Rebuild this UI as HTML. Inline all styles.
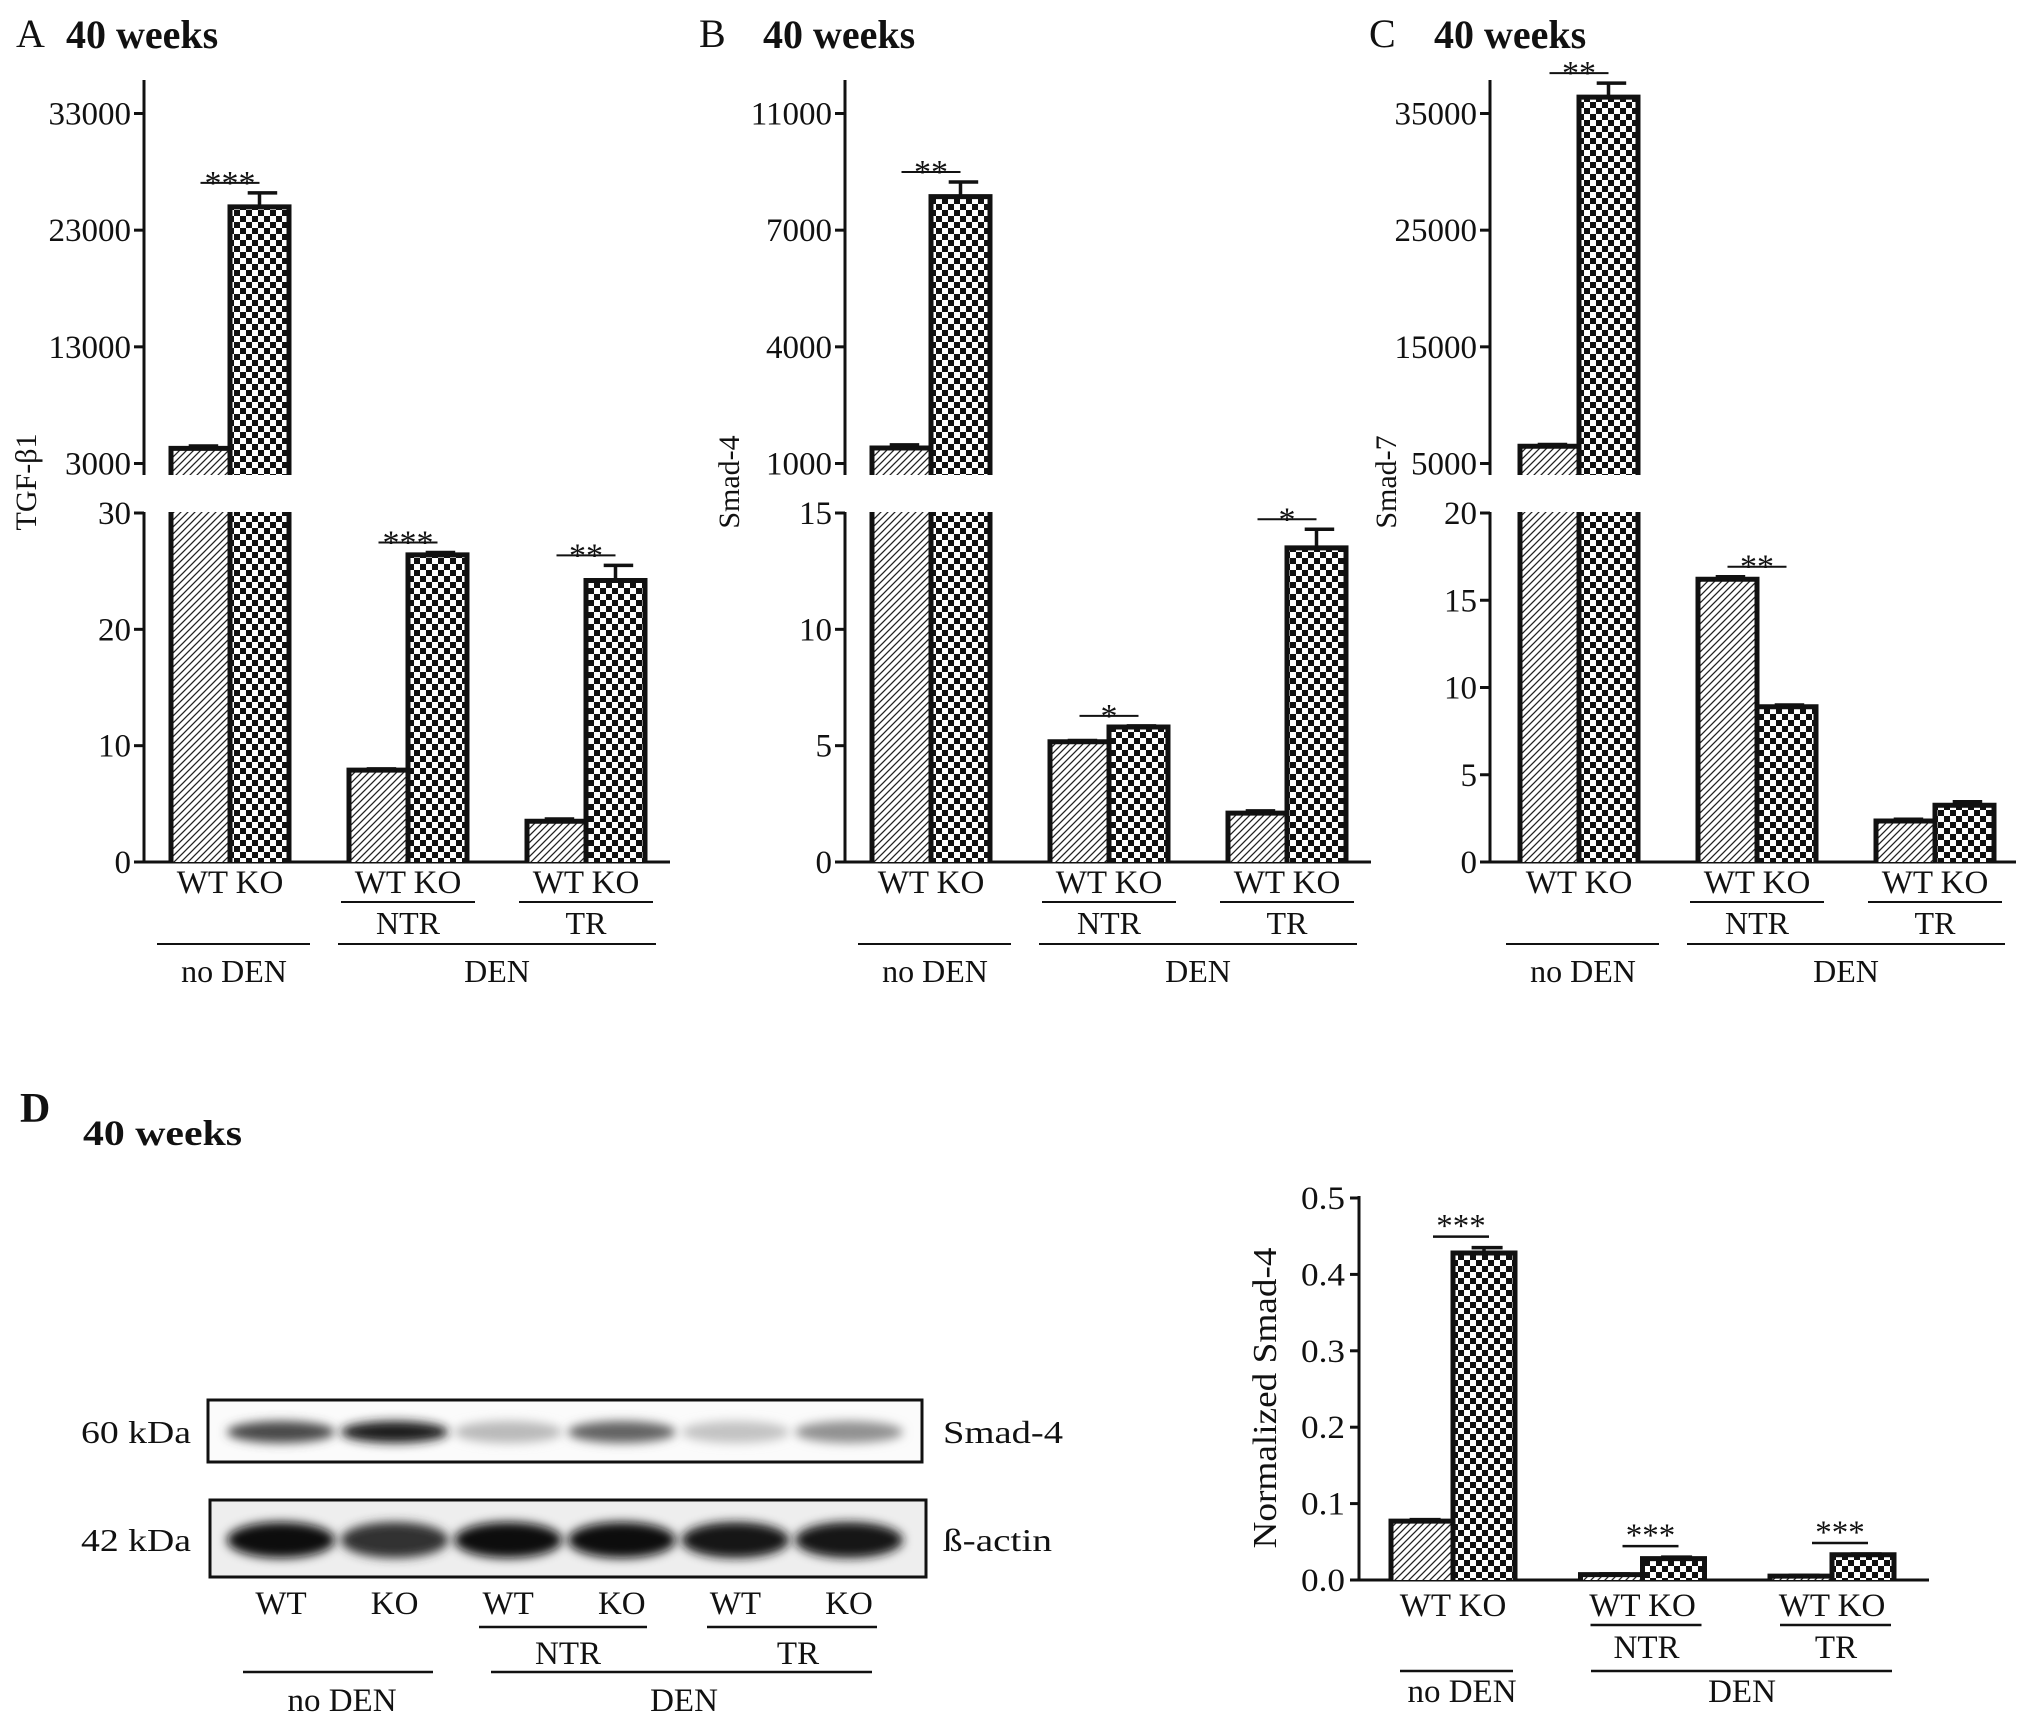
<!DOCTYPE html>
<html><head><meta charset="utf-8">
<style>
html,body{margin:0;padding:0;background:#fff;}
svg{display:block;}
text{font-family:"Liberation Serif",serif;fill:#111;}
</style></head>
<body>
<svg id="fig" width="2031" height="1721" viewBox="0 0 2031 1721" xmlns="http://www.w3.org/2000/svg">
<defs>
<pattern id="hatch" patternUnits="userSpaceOnUse" width="7" height="7">
<rect width="7" height="7" fill="#fff"/>
<path d="M-1,1 l2,-2 M0,7 l7,-7 M6,8 l2,-2" stroke="#222" stroke-width="1.3"/>
</pattern>
<pattern id="checker" patternUnits="userSpaceOnUse" width="12" height="12">
<rect width="12" height="12" fill="#fff"/>
<rect width="6" height="6" fill="#111"/>
<rect x="6" y="6" width="6" height="6" fill="#111"/>
</pattern>
<filter id="blur" x="-30%" y="-80%" width="160%" height="260%"><feGaussianBlur stdDeviation="5"/></filter>
</defs>
<g id="root"></g>
</svg>
<script>
// ---------- Panel A (TGF-β1) ----------
const groups = ["noDEN", "NTR", "TR"];
const aUpperTicks = [3000, 13000, 23000, 33000];
const aLowerTicks = [0, 10, 20, 30];
const aWT = [4300, 7.9, 3.5];
const aKO = [25000, 26.4, 24.2];
const aWTErr = [200, 0.1, 0.2];
const aKOErr = [1200, 0.2, 1.3];
const aStars = ["***", "***", "**"];
// ---------- Panel B (Smad-4) ----------
const bUpperTicks = [1000, 4000, 7000, 11000];
const bLowerTicks = [0, 5, 10, 15];
const bWT = [1400, 5.17, 2.1];
const bKO = [8150, 5.8, 13.5];
const bWTErr = [80, 0.05, 0.1];
const bKOErr = [500, 0.05, 0.8];
const bStars = ["**", "*", "*"];
// ---------- Panel C (Smad-7) ----------
const cUpperTicks = [5000, 15000, 25000, 35000];
const cLowerTicks = [0, 5, 10, 15, 20];
const cWT = [6480, 16.2, 2.35];
const cKO = [36400, 8.9, 3.25];
const cWTErr = [150, 0.15, 0.1];
const cKOErr = [1200, 0.1, 0.2];
const cStars = ["**", "**", ""];
// ---------- Panel D (Normalized Smad-4) ----------
const dTicks = [0.0, 0.1, 0.2, 0.3, 0.4, 0.5];
const dTickLabels = ["0.0", "0.1", "0.2", "0.3", "0.4", "0.5"];
const dWT = [0.077, 0.007, 0.005];
const dKO = [0.428, 0.028, 0.033];
const dWTErr = [0.002, 0.001, 0.001];
const dKOErr = [0.007, 0.002, 0.001];
const dStars = ["***", "***", "***"];
// ---------- Western blot ----------
const lanes = ["WT", "KO", "WT", "KO", "WT", "KO"];
const smadBand = [0.72, 0.92, 0.22, 0.6, 0.18, 0.4];
const actinBand = [0.97, 0.82, 1.0, 1.0, 0.95, 0.95];

const NS = "http://www.w3.org/2000/svg";
const root = document.getElementById("root");
function mk(tag, attrs, parent, txt) {
  const e = document.createElementNS(NS, tag);
  for (const k in attrs) e.setAttribute(k, attrs[k]);
  if (txt !== undefined) e.textContent = txt;
  (parent || root).appendChild(e);
  return e;
}
function tickScale(ticks, yFirst, yLast) {
  const n = ticks.length, step = (yLast - yFirst) / (n - 1);
  return function (v) {
    let i = 0;
    while (i < n - 2 && v > ticks[i + 1]) i++;
    return yFirst + (i + (v - ticks[i]) / (ticks[i + 1] - ticks[i])) * step;
  };
}
function fmt(v) { return String(v); }

function breakChart(p) {
  const g = mk("g", {});
  
  
  const ax = p.axisX;
  const upTop = 113.5, upBot = 463.5, brk = 475, loTop = 513, loBot = 862;
  const uy = tickScale(p.upperTicks, upBot, upTop);
  const ly = tickScale(p.lowerTicks, loBot, loTop);
  const lowerMax = p.lowerTicks[p.lowerTicks.length - 1];
  const lt = mk("text", { x: p.letterX, y: 47, "font-size": 40 }, g, p.letter);
  
  
  const wt = mk("text", { x: p.titleX, y: 48, "font-size": 40, "font-weight": "bold" }, g, "40 weeks");
  
  
  const yt = mk("text", { x: 0, y: 0, "font-size": 30, "text-anchor": "middle", transform: `translate(${p.yTitleX},482) rotate(-90)` }, g, p.yTitle);
  
  
  const au = mk("line", { x1: ax, y1: 80, x2: ax, y2: brk, stroke: "#111", "stroke-width": 3 }, g);
  
  
  const al = mk("line", { x1: ax, y1: 512, x2: ax, y2: loBot + 1.5, stroke: "#111", "stroke-width": 3 }, g);
  
  
  const xa = mk("line", { x1: ax, y1: loBot, x2: ax + 526, y2: loBot, stroke: "#111", "stroke-width": 3 }, g);
  
  
  p.upperTicks.forEach(t => {
    const y = uy(t);
    mk("line", { x1: ax - 10, y1: y, x2: ax, y2: y, stroke: "#111", "stroke-width": 3 }, g);
    const tl = mk("text", { x: ax - 13, y: y + 11, "font-size": 33, "text-anchor": "end" }, g, fmt(t));
    
    
  });
  p.lowerTicks.forEach(t => {
    const y = ly(t);
    mk("line", { x1: ax - 10, y1: y, x2: ax, y2: y, stroke: "#111", "stroke-width": 3 }, g);
    const tl = mk("text", { x: ax - 13, y: y + 11, "font-size": 33, "text-anchor": "end" }, g, fmt(t));
    
    
  });
  const bw = 59;
  const yOf = v => v > lowerMax ? uy(v) : ly(v);
  groups.forEach((grp, i) => {
    const cx = ax + p.off + i * 178;
    const series = [[p.wt[i], p.wtErr[i], "url(#hatch)", cx - bw, "wt"], [p.ko[i], p.koErr[i], "url(#checker)", cx, "ko"]];
    series.forEach(([v, e, fill, x, s]) => {
      if (v > lowerMax) {
        const r1 = mk("rect", { x: x, y: loTop - 1, width: bw, height: loBot - loTop + 1, fill: fill }, g);
        
        
        mk("path", { d: `M${x},${loTop - 1} V${loBot} M${x + bw},${loTop - 1} V${loBot}`, stroke: "#111", "stroke-width": 5, fill: "none" }, g);
        const y = uy(v);
        const r2 = mk("rect", { x: x, y: y, width: bw, height: brk - y, fill: fill }, g);
        
        
        mk("path", { d: `M${x},${brk} V${y} H${x + bw} V${brk}`, stroke: "#111", "stroke-width": 5, fill: "none" }, g);
        const ye = uy(v + e);
        mk("path", { d: `M${x + bw / 2},${y} V${ye} M${x + bw * 0.3},${ye} H${x + bw * 0.8}`, stroke: "#111", "stroke-width": 3.5, fill: "none" }, g);
      } else {
        const y = ly(v);
        const r = mk("rect", { x: x, y: y, width: bw, height: loBot - y, fill: fill }, g);
        
        
        mk("path", { d: `M${x},${loBot} V${y} H${x + bw} V${loBot}`, stroke: "#111", "stroke-width": 5, fill: "none" }, g);
        const ye = ly(v + e);
        mk("path", { d: `M${x + bw / 2},${y} V${ye} M${x + bw * 0.3},${ye} H${x + bw * 0.8}`, stroke: "#111", "stroke-width": 3.5, fill: "none" }, g);
      }
    });
    if (p.stars[i]) {
      const top = Math.min(yOf(p.wt[i] + p.wtErr[i]), yOf(p.ko[i] + p.koErr[i]));
      const ly2 = top - 10;
      mk("line", { x1: cx - bw / 2, y1: ly2, x2: cx + bw / 2, y2: ly2, stroke: "#111", "stroke-width": 2 }, g);
      const st = mk("text", { x: cx, y: ly2 + 11, "font-size": 34, "text-anchor": "middle" }, g, p.stars[i]);
      
      
    }
    const xl = mk("text", { x: cx, y: 893, "font-size": 33, "text-anchor": "middle" }, g, "WT KO");
    
    
    if (i > 0) {
      mk("line", { x1: cx - 67, y1: 902, x2: cx + 67, y2: 902, stroke: "#111", "stroke-width": 2 }, g);
      const tr = mk("text", { x: cx, y: 934, "font-size": 32, "text-anchor": "middle" }, g, grp);
      
      
    }
  });
  const c0 = ax + p.off, c1 = ax + p.off + 178, c2 = ax + p.off + 356;
  mk("line", { x1: c0 - 73, y1: 944, x2: c0 + 80, y2: 944, stroke: "#111", "stroke-width": 2 }, g);
  mk("line", { x1: c1 - 70, y1: 944, x2: c2 + 70, y2: 944, stroke: "#111", "stroke-width": 2 }, g);
  const nd = mk("text", { x: c0 + 4, y: 982, "font-size": 32, "text-anchor": "middle" }, g, "no DEN");
  
  
  const dn = mk("text", { x: (c1 + c2) / 2, y: 982, "font-size": 32, "text-anchor": "middle" }, g, "DEN");
  
  
}

breakChart({ name: "panel-a-tgf-beta1", letter: "A", letterX: 16, titleX: 66, yTitle: "TGF-β1", yTitleX: 36, axisX: 144, off: 86,
  upperTicks: aUpperTicks, lowerTicks: aLowerTicks, wt: aWT, ko: aKO, wtErr: aWTErr, koErr: aKOErr, stars: aStars });
breakChart({ name: "panel-b-smad4", letter: "B", letterX: 699, titleX: 763, yTitle: "Smad-4", yTitleX: 739, axisX: 845, off: 86,
  upperTicks: bUpperTicks, lowerTicks: bLowerTicks, wt: bWT, ko: bKO, wtErr: bWTErr, koErr: bKOErr, stars: bStars });
breakChart({ name: "panel-c-smad7", letter: "C", letterX: 1369, titleX: 1434, yTitle: "Smad-7", yTitleX: 1396, axisX: 1490, off: 89,
  upperTicks: cUpperTicks, lowerTicks: cLowerTicks, wt: cWT, ko: cKO, wtErr: cWTErr, koErr: cKOErr, stars: cStars });

(function () {
  const g = mk("g", {});
  
  
  const l = mk("text", { x: 20, y: 1122, "font-size": 42, "font-weight": "bold" }, g, "D");
  
  
  const t = mk("text", { x: 83, y: 1145, "font-size": 36, "font-weight": "bold", textLength: 159, lengthAdjust: "spacingAndGlyphs" }, g, "40 weeks");
  
  

  const boxes = [[208, 1400, 714, 62, smadBand, 1432, "smad4-blot", "60 kDa", "Smad-4"], [210, 1500, 716, 77, actinBand, 1540, "actin-blot", "42 kDa", "ß-actin"]];
  const laneX = i => 281 + i * 113.6;
  boxes.forEach(([x, y, w, h, arr, cy, nm, kda, lab]) => {
    const bx = mk("rect", { x: x, y: y, width: w, height: h, fill: nm === "actin-blot" ? "#eeeeee" : "#fbfbfb", stroke: "#111", "stroke-width": 3 }, g);
    
    
    arr.forEach((v, i) => {
      const c = Math.round(235 - v * 225);
      const e = mk("ellipse", { cx: laneX(i), cy: cy, rx: 54, ry: nm === "actin-blot" ? 18 : 11, fill: `rgb(${c},${c},${c})`, filter: "url(#blur)" }, g);
      
      
    });
    const k = mk("text", { x: 81, y: cy + 11, "font-size": 32, textLength: 110, lengthAdjust: "spacingAndGlyphs" }, g, kda);
    
    
    const lb = mk("text", { x: 943, y: cy + 11, "font-size": 32, textLength: nm === "actin-blot" ? 109 : 120, lengthAdjust: "spacingAndGlyphs" }, g, lab);
    
    
  });
  lanes.forEach((ln, i) => {
    const tx = mk("text", { x: laneX(i), y: 1614, "font-size": 33, "text-anchor": "middle" }, g, ln);
    
    
  });
  mk("line", { x1: 479, y1: 1627, x2: 647, y2: 1627, stroke: "#111", "stroke-width": 2.5 }, g);
  mk("line", { x1: 707, y1: 1627, x2: 877, y2: 1627, stroke: "#111", "stroke-width": 2.5 }, g);
  mk("line", { x1: 243, y1: 1672, x2: 433, y2: 1672, stroke: "#111", "stroke-width": 2.5 }, g);
  mk("line", { x1: 491, y1: 1672, x2: 872, y2: 1672, stroke: "#111", "stroke-width": 2.5 }, g);
  [["NTR", 568, 1664], ["TR", 798, 1664], ["no DEN", 342, 1711], ["DEN", 684, 1711]].forEach(([s, x, y]) => {
    const tx = mk("text", { x: x, y: y, "font-size": 33, "text-anchor": "middle" }, g, s);
    
    
  });

  const ax = 1359, y0 = 1580, y5 = 1198;
  const ys = tickScale(dTicks, y0, y5);
  const ya = mk("line", { x1: ax, y1: 1196, x2: ax, y2: y0 + 1.5, stroke: "#111", "stroke-width": 3 }, g);
  
  
  const xa = mk("line", { x1: ax, y1: y0, x2: 1929, y2: y0, stroke: "#111", "stroke-width": 3 }, g);
  
  
  dTicks.forEach((v, i) => {
    const y = ys(v);
    mk("line", { x1: ax - 9, y1: y, x2: ax, y2: y, stroke: "#111", "stroke-width": 3 }, g);
    const tl = mk("text", { x: ax - 14, y: y + 11, "font-size": 33, "text-anchor": "end", textLength: 44, lengthAdjust: "spacingAndGlyphs" }, g, dTickLabels[i]);
    
    
  });
  const yt = mk("text", { x: 0, y: 0, "font-size": 34, "text-anchor": "middle", textLength: 301, lengthAdjust: "spacingAndGlyphs", transform: "translate(1276,1398) rotate(-90)" }, g, "Normalized Smad-4");
  
  
  const bw = 62;
  groups.forEach((grp, i) => {
    const cx = ax + 94 + i * 189.5;
    [[dWT[i], dWTErr[i], "url(#hatch)", cx - bw, "wt"], [dKO[i], dKOErr[i], "url(#checker)", cx, "ko"]].forEach(([v, e, fill, x, s]) => {
      const y = ys(v);
      const r = mk("rect", { x: x, y: y, width: bw, height: y0 - y, fill: fill }, g);
      
      
      mk("path", { d: `M${x},${y0} V${y} H${x + bw} V${y0}`, stroke: "#111", "stroke-width": 5, fill: "none" }, g);
      const ye = ys(v + e);
      mk("path", { d: `M${x + bw / 2},${y} V${ye} M${x + bw * 0.3},${ye} H${x + bw * 0.8}`, stroke: "#111", "stroke-width": 3.5, fill: "none" }, g);
    });
    if (dStars[i]) {
      const top = Math.min(ys(dWT[i] + dWTErr[i]), ys(dKO[i] + dKOErr[i]));
      const sy = top - 11;
      mk("line", { x1: cx - 20, y1: sy, x2: cx + 36, y2: sy, stroke: "#111", "stroke-width": 2.5 }, g);
      const st = mk("text", { x: cx + 8, y: sy, "font-size": 33, "text-anchor": "middle" }, g, dStars[i]);
      
      
    }
    const xl = mk("text", { x: cx, y: 1616, "font-size": 33, "text-anchor": "middle" }, g, "WT KO");
    
    
    if (i > 0) {
      mk("line", { x1: cx - 52, y1: 1625, x2: cx + 59, y2: 1625, stroke: "#111", "stroke-width": 2.5 }, g);
      const tr = mk("text", { x: cx + 4, y: 1658, "font-size": 33, "text-anchor": "middle" }, g, grp);
      
      
    }
  });
  mk("line", { x1: 1400, y1: 1671, x2: 1513, y2: 1671, stroke: "#111", "stroke-width": 2.5 }, g);
  mk("line", { x1: 1591, y1: 1671, x2: 1892, y2: 1671, stroke: "#111", "stroke-width": 2.5 }, g);
  const nd = mk("text", { x: 1462, y: 1702, "font-size": 33, "text-anchor": "middle" }, g, "no DEN");
  
  
  const dn = mk("text", { x: 1742, y: 1702, "font-size": 33, "text-anchor": "middle" }, g, "DEN");
  
  
})();
</script>
</body></html>
